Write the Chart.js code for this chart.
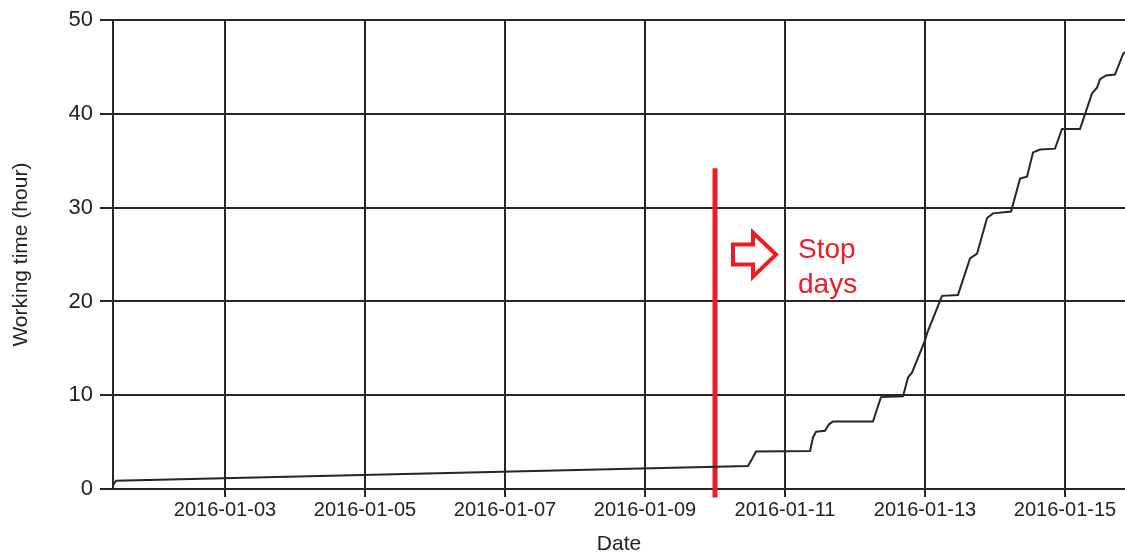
<!DOCTYPE html>
<html>
<head>
<meta charset="utf-8">
<title>Working time</title>
<script src="https://cdn.jsdelivr.net/npm/chart.js@4.4.1/dist/chart.umd.min.js"></script>
<style>
  html, body { margin: 0; padding: 0; background: #fff; }
  #wrap { width: 1125px; height: 556px; position: relative; }
</style>
</head>
<body>
<div id="wrap"><canvas id="workChart"></canvas></div>
<script>
// values
const times = [
  '2016-01-01 09:36', '2016-01-01 10:38', '2016-01-10 11:18', '2016-01-10 12:42',
  '2016-01-10 14:04', '2016-01-11 08:34', '2016-01-11 09:36', '2016-01-11 10:38',
  '2016-01-11 13:42', '2016-01-11 15:05', '2016-01-11 16:28', '2016-01-12 06:10',
  '2016-01-12 07:32', '2016-01-12 08:54', '2016-01-12 16:28', '2016-01-12 18:10',
  '2016-01-12 19:32', '2016-01-13 00:00', '2016-01-13 00:41', '2016-01-13 05:50',
  '2016-01-13 11:18', '2016-01-13 15:26', '2016-01-13 17:50', '2016-01-13 21:16',
  '2016-01-13 23:18', '2016-01-14 05:30', '2016-01-14 08:34', '2016-01-14 10:58',
  '2016-01-14 13:02', '2016-01-14 15:26', '2016-01-14 20:34', '2016-01-14 22:58',
  '2016-01-15 05:08', '2016-01-15 09:16', '2016-01-15 10:58', '2016-01-15 12:00',
  '2016-01-15 14:04', '2016-01-15 17:08', '2016-01-15 19:54', '2016-01-15 20:34'
];
const hours = [
  0.4, 0.88, 2.45, 3.2,
  4.0, 4.05, 5.5, 6.1,
  6.2, 6.9, 7.2, 7.2,
  8.5, 9.8, 9.9, 11.9,
  12.4, 15.85, 16.6, 20.6,
  20.7, 24.6, 25.1, 28.9,
  29.4, 29.6, 33.1, 33.3,
  35.9, 36.2, 36.3, 38.4,
  38.4, 42.2, 42.8, 43.7,
  44.1, 44.2, 46.4, 46.6
];
const xTickLabels = ['2016-01-03', '2016-01-05', '2016-01-07', '2016-01-09', '2016-01-11', '2016-01-13', '2016-01-15'];
const yTicks = [0, 10, 20, 30, 40, 50];
const axisStart = '2016-01-01 09:36';
const axisEnd = '2016-01-15 20:34';

// the red "stop" marker and its note
const stopTime = '2016-01-10 00:00';
const stopRange = [-0.9, 34.2];
const arrowTime = '2016-01-10 06:10';
const arrowHours = 25;
const noteTime = '2016-01-11 04:28';
const noteHours = 24.6;
const noteLines = ['Stop', 'days'];

const RED = '#ED1C24';
const INK = '#262626';
const FONT = "'Liberation Sans', Arial, sans-serif";

// days since 2016-01-01 00:00 UTC
const base = Date.UTC(2016, 0, 1);
const toDay = (s) => {
  const t = Date.parse(s.replace(' ', 'T') + (s.length > 10 ? ':00Z' : 'T00:00:00Z'));
  return (t - base) / 86400000;
};
const fmtDay = (v) => new Date(base + v * 86400000).toISOString().slice(0, 10);

const points = times.map((t, i) => ({ x: toDay(t), y: hours[i] }));
const stopPoints = stopRange.map((h) => ({ x: toDay(stopTime), y: h }));

const notePlugin = {
  id: 'stopNote',
  afterDatasetsDraw(chart) {
    const { ctx, scales } = chart;
    const ax = scales.x.getPixelForValue(toDay(arrowTime));
    const ay = scales.y.getPixelForValue(arrowHours);
    ctx.save();
    ctx.strokeStyle = RED;
    ctx.lineWidth = 4;
    ctx.lineJoin = 'miter';
    ctx.beginPath();
    ctx.moveTo(ax, ay - 10);
    ctx.lineTo(ax + 20, ay - 10);
    ctx.lineTo(ax + 20, ay - 22);
    ctx.lineTo(ax + 43, ay);
    ctx.lineTo(ax + 20, ay + 22);
    ctx.lineTo(ax + 20, ay + 10);
    ctx.lineTo(ax, ay + 10);
    ctx.closePath();
    ctx.stroke();

    const tx = scales.x.getPixelForValue(toDay(noteTime));
    const ty = scales.y.getPixelForValue(noteHours);
    ctx.fillStyle = RED;
    ctx.font = '28px ' + FONT;
    ctx.textBaseline = 'alphabetic';
    noteLines.forEach((line, i) => ctx.fillText(line, tx, ty + i * 35));
    ctx.restore();
  }
};

new Chart(document.getElementById('workChart'), {
  type: 'line',
  data: {
    datasets: [
      {
        label: 'Working time',
        data: points,
        borderColor: INK,
        borderWidth: 2,
        pointRadius: 0,
        tension: 0,
        fill: false
      },
      {
        label: 'Stop',
        data: stopPoints,
        borderColor: RED,
        borderWidth: 5,
        pointRadius: 0,
        clip: false
      }
    ]
  },
  options: {
    responsive: true,
    maintainAspectRatio: false,
    animation: false,
    layout: { padding: { top: 19, left: 0, right: 0, bottom: 0 } },
    plugins: { legend: { display: false }, tooltip: { enabled: false } },
    scales: {
      x: {
        type: 'linear',
        min: toDay(axisStart),
        max: toDay(axisEnd),
        afterBuildTicks: (scale) => {
          scale.ticks = xTickLabels.map((s) => ({ value: toDay(s) }));
        },
        afterFit: (scale) => {
          scale.height = 67;
          scale.paddingLeft = 0;
          scale.paddingRight = 0;
        },
        grid: { color: INK, lineWidth: 2, tickLength: 8, tickColor: INK },
        border: { color: INK, width: 2 },
        ticks: {
          autoSkip: false,
          maxRotation: 0,
          padding: 1,
          color: '#222',
          font: { family: FONT, size: 20 },
          callback: (v) => fmtDay(v)
        },
        title: {
          display: true,
          text: 'Date',
          color: '#222',
          font: { family: FONT, size: 21, lineHeight: 1 },
          padding: { top: 0, bottom: 1 }
        }
      },
      y: {
        min: yTicks[0],
        max: yTicks[yTicks.length - 1],
        afterBuildTicks: (scale) => {
          scale.ticks = yTicks.map((v) => ({ value: v }));
        },
        afterFit: (scale) => { scale.width = 113; },
        grid: { color: INK, lineWidth: 2, tickLength: 13, tickColor: INK },
        border: { color: INK, width: 2 },
        ticks: {
          padding: 7,
          color: '#222',
          font: { family: FONT, size: 22 }
        },
        title: {
          display: true,
          text: 'Working time (hour)',
          color: '#222',
          font: { family: FONT, size: 21, lineHeight: 1 },
          padding: { top: 11, bottom: 0 }
        }
      }
    }
  },
  plugins: [notePlugin]
});
</script>
</body>
</html>
